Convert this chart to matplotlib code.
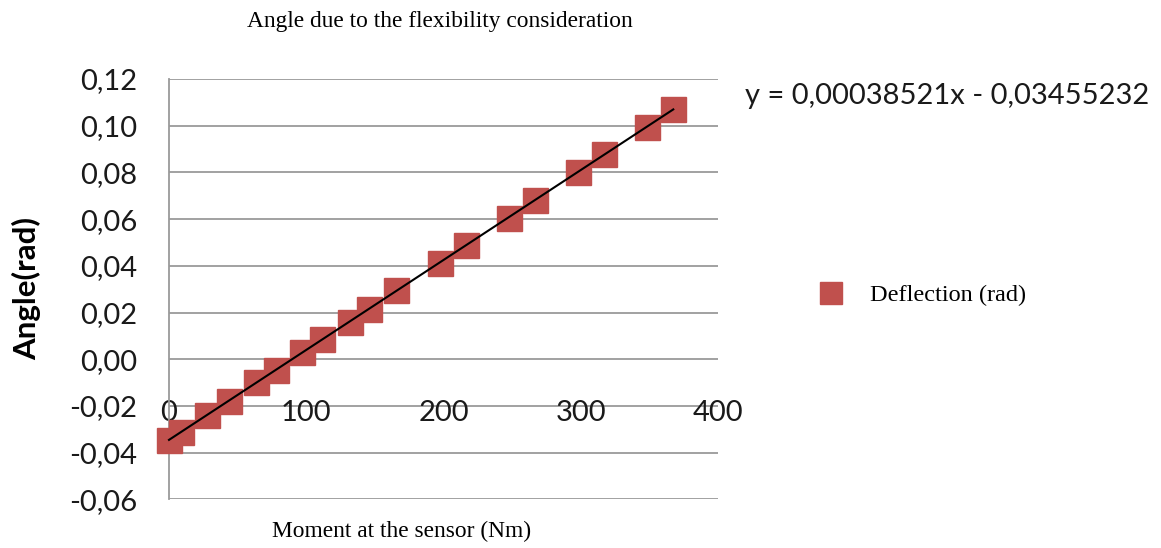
import matplotlib
matplotlib.use("Agg")
import matplotlib.pyplot as plt
from matplotlib.lines import Line2D
import numpy as np

# Data
moment = [0.0, 9.0, 27.4, 43.7, 63.2, 77.7, 96.9, 111.7, 131.7, 146.0,
          165.2, 197.5, 216.2, 248.0, 266.7, 298.2, 317.2, 348.3, 367.4]
deflection = [-0.0347, -0.0310, -0.0239, -0.0178, -0.0099, -0.0045, 0.0032,
              0.0087, 0.0161, 0.0216, 0.0295, 0.0413, 0.0488, 0.0606, 0.0680,
              0.0802, 0.0879, 0.0996, 0.1072]
slope = 0.00038521
intercept = -0.03455232
x_ticks = [0, 100, 200, 300, 400]
y_ticks = [0.12, 0.10, 0.08, 0.06, 0.04, 0.02, 0.00, -0.02, -0.04, -0.06]

title = "Angle due to the flexibility consideration"
x_label = "Moment at the sensor (Nm)"
y_label = "Angle(rad)"
series_name = "Deflection (rad)"
eq_text = "y = 0,00038521x - 0,03455232"

red = "#C0504D"
grid_c = "#9A9A9A"
txt_c = "#1a1a1a"
sans = ["Lato", "DejaVu Sans"]
serif = ["Liberation Serif", "DejaVu Serif"]

fig = plt.figure(figsize=(11.61, 5.48), dpi=100)
ax = fig.add_axes([169/1161, 1-499.3/548, (718-169)/1161, (499.3-79)/548])

ax.set_xlim(0, 400)
ax.set_ylim(-0.06, 0.12)

# gridlines
for yv in y_ticks:
    ax.axhline(yv, color=grid_c, lw=1.3, zorder=1)
for s in ["top", "right", "bottom"]:
    ax.spines[s].set_visible(False)
ax.spines["left"].set_color(grid_c)
ax.spines["left"].set_linewidth(1.3)

ax.set_yticks(y_ticks)
ax.set_yticklabels([f"{v:.2f}".replace(".", ",") for v in y_ticks],
                   fontfamily=sans, fontsize=21, color=txt_c)
ax.tick_params(axis="y", length=0, pad=23)

# x axis labels drawn at y=-0.02 crossing
ax.spines["bottom"].set_position(("data", -0.02))
ax.set_xticks(x_ticks)
ax.set_xticklabels([str(v) for v in x_ticks], fontfamily=sans, fontsize=21,
                   color=txt_c)
ax.tick_params(axis="x", length=0, pad=-4)

# data
ax.plot(moment, deflection, linestyle="none", marker="s", markersize=18,
        color=red, markeredgecolor=red, zorder=3, clip_on=False)
xt = np.array([0.0, max(moment)])
ax.plot(xt, slope*xt + intercept, color="black", lw=1.5, zorder=4,
        clip_on=False)

fig.text(440/1161, 1-21/548, title, ha="center", va="center",
         fontfamily=serif, fontsize=16.8)
fig.text(402/1161, 1-531/548, x_label, ha="center", va="center",
         fontfamily=serif, fontsize=16.8)
fig.text(27/1161, 1-288/548, y_label, ha="center", va="center",
         rotation=90, fontfamily=sans, fontsize=22.5, fontweight="bold")
fig.text(745/1161, 1-96/548, eq_text, ha="left", va="center",
         fontfamily=sans, fontsize=21, color=txt_c)

handle = Line2D([], [], linestyle="none", marker="s", markersize=16,
                color=red)
leg = fig.legend([handle], [series_name], loc="center left",
                 bbox_to_anchor=(785/1161, 1-295/548), frameon=False,
                 prop={"family": serif, "size": 17.5}, handletextpad=0.6)

fig.savefig("out.png", dpi=100)
